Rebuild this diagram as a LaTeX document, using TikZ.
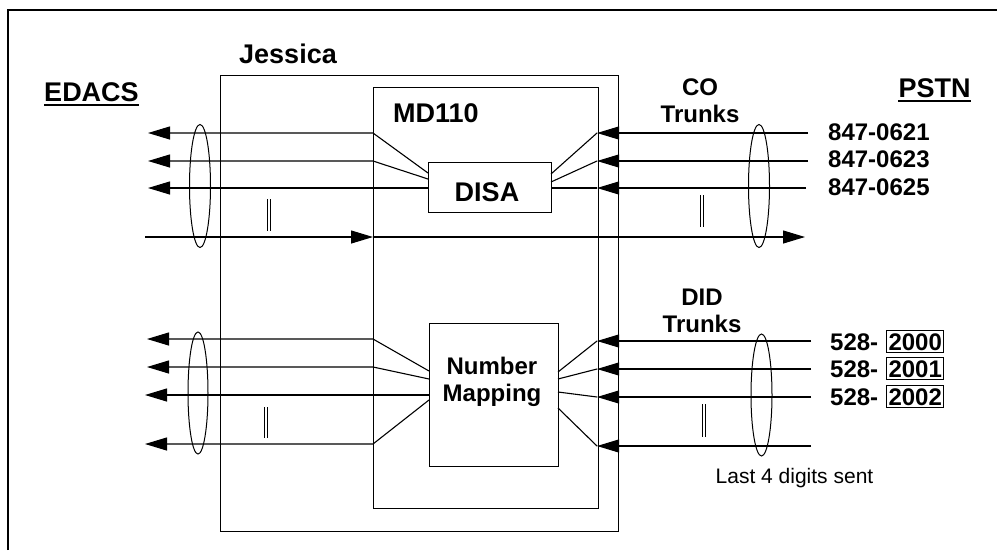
\documentclass[tikz,border=0pt]{standalone}
\usepackage{fontspec}
\setmainfont{Liberation Sans}
\usetikzlibrary{arrows.meta,shapes.geometric,calc}
\begin{document}
\begin{tikzpicture}[x=1pt,y=-1pt]
\tikzset{
  box/.style={draw, line width=1.2pt, inner sep=0pt, anchor=north west},
  conn/.style={line width=1.1pt},
  arr/.style={conn, -{Triangle[length=22pt,width=13pt]}},
  grp/.style={draw, ellipse, line width=1pt, inner sep=0pt},
  parline/.style={line width=0.9pt},
  big/.style={font=\fontsize{27}{30}\selectfont\bfseries, inner sep=0pt, anchor=base},
  mid/.style={font=\fontsize{24}{27}\selectfont\bfseries, inner sep=0pt, anchor=base},
  numl/.style={font=\fontsize{24}{27}\selectfont\bfseries, inner sep=0pt, anchor=base west},
  digbox/.style={draw, line width=1pt, font=\fontsize{24}{27}\selectfont\bfseries, inner xsep=2pt, inner ysep=0pt, text height=19.5pt, text depth=2.5pt, anchor=base west},
  small/.style={font=\fontsize{21}{24}\selectfont, inner sep=0pt, anchor=base}
}
\useasboundingbox (0,0) rectangle (997,550);
% outer frame
\draw[line width=2pt] (8,550) -- (8,10) -- (997,10);
% boxes
\node[box, minimum width=398pt, minimum height=456pt] (jes) at (220,75) {};
\node[box, minimum width=225pt, minimum height=421pt] (md) at (373,87) {};
\node[box, minimum width=123pt, minimum height=50pt] (disa) at (428,162) {};
\node[box, minimum width=129pt, minimum height=143pt] (nm) at (429,323) {};
% labels
\node[big] (jlab) at (288,63) {Jessica};
\node[big] (edacs) at (91.5,101) {EDACS};
\draw[line width=2pt] ($(edacs.base west)+(0,3.5)$) -- ($(edacs.base east)+(0,3.5)$);
\node[big] (pstn) at (934.5,97) {PSTN};
\draw[line width=2pt] ($(pstn.base west)+(0,3.5)$) -- ($(pstn.base east)+(0,3.5)$);
\node[big, anchor=base west] (mdlab) at (393,122) {MD110};
\node[big] (disalab) at (487,201) {DISA};
\node[mid] (nm1) at (492,374) {Number};
\node[mid] (nm2) at (492,401) {Mapping};
\node[mid] (co1) at (700,95) {CO};
\node[mid] (co2) at (700,122) {Trunks};
\node[mid] (did1) at (702,305) {DID};
\node[mid] (did2) at (702,332) {Trunks};
\node[numl] (n1) at (828,140) {847-0621};
\node[numl] (n2) at (828,167) {847-0623};
\node[numl] (n3) at (828,195) {847-0625};
\node[numl] (p1) at (830,350) {528-};
\node[digbox] (q1) at (886,350) {2000};
\node[numl] (p2) at (830,377) {528-};
\node[digbox] (q2) at (886,377) {2001};
\node[numl] (p3) at (830,405) {528-};
\node[digbox] (q3) at (886,405) {2002};
\node[small] (last) at (794.5,483) {Last 4 digits sent};
% coordinates: upper group
\coordinate (da1) at (428,173); \coordinate (ka1) at (373,133); \coordinate (ta1) at (148,133);
\coordinate (da2) at (428,179); \coordinate (ka2) at (373,161); \coordinate (ta2) at (148,161);
\coordinate (da3) at (428,188); \coordinate (ta3) at (148,188);
\coordinate (sb1) at (808,133); \coordinate (kb1) at (597,133); \coordinate (db1) at (551,174);
\coordinate (sb2) at (808,161); \coordinate (kb2) at (597,161); \coordinate (db2) at (551,182);
\coordinate (sb3) at (806,188); \coordinate (kb3) at (597,188); \coordinate (db3) at (551,188);
\coordinate (so) at (145,237); \coordinate (ko) at (373,237); \coordinate (to) at (805,237);
% lower group
\coordinate (dc1) at (429,371); \coordinate (kc1) at (373,339); \coordinate (tc1) at (147,339);
\coordinate (dc2) at (429,379); \coordinate (kc2) at (373,367); \coordinate (tc2) at (147,367);
\coordinate (dc3) at (429,395); \coordinate (tc3) at (145,395);
\coordinate (dc4) at (429,400); \coordinate (kc4) at (373,444); \coordinate (tc4) at (145,444);
\coordinate (sd1) at (811,341); \coordinate (kd1) at (597,341); \coordinate (dd1) at (558,372);
\coordinate (sd2) at (811,369); \coordinate (kd2) at (597,369); \coordinate (dd2) at (558,379);
\coordinate (sd3) at (811,397); \coordinate (kd3) at (597,397); \coordinate (dd3) at (558,392);
\coordinate (sd4) at (811,446); \coordinate (kd4) at (597,446); \coordinate (dd4) at (558,408);
% connectors upper
\draw[arr] (da1) -- (ka1) -- (ta1);
\draw[arr] (da2) -- (ka2) -- (ta2);
\draw[arr] (da3) -- (ta3);
\draw[arr] (sb1) -- (kb1); \draw[conn] (kb1) -- (db1);
\draw[arr] (sb2) -- (kb2); \draw[conn] (kb2) -- (db2);
\draw[arr] (sb3) -- (kb3); \draw[conn] (kb3) -- (db3);
\draw[arr] (so) -- (ko); \draw[arr] (ko) -- (to);
% connectors lower
\draw[arr] (dc1) -- (kc1) -- (tc1);
\draw[arr] (dc2) -- (kc2) -- (tc2);
\draw[arr] (dc3) -- (tc3);
\draw[arr] (dc4) -- (kc4) -- (tc4);
\draw[arr] (sd1) -- (kd1); \draw[conn] (kd1) -- (dd1);
\draw[arr] (sd2) -- (kd2); \draw[conn] (kd2) -- (dd2);
\draw[arr] (sd3) -- (kd3); \draw[conn] (kd3) -- (dd3);
\draw[arr] (sd4) -- (kd4); \draw[conn] (kd4) -- (dd4);
% group ellipses
\node[grp, minimum width=21pt, minimum height=123pt] (e1) at (200,186) {};
\node[grp, minimum width=21pt, minimum height=123pt] (e2) at (759,186) {};
\node[grp, minimum width=20pt, minimum height=122pt] (e3) at (198,393) {};
\node[grp, minimum width=21pt, minimum height=122pt] (e4) at (761.5,395) {};
% parallel marks (two thin strokes each)
\draw[parline] (267,199) -- (267,231) (270,199) -- (270,231);
\draw[parline] (700,195) -- (700,227) (703,195) -- (703,227);
\draw[parline] (264.5,407) -- (264.5,438) (267.5,407) -- (267.5,438);
\draw[parline] (702,404) -- (702,437) (705,404) -- (705,437);
\end{tikzpicture}
\end{document}
